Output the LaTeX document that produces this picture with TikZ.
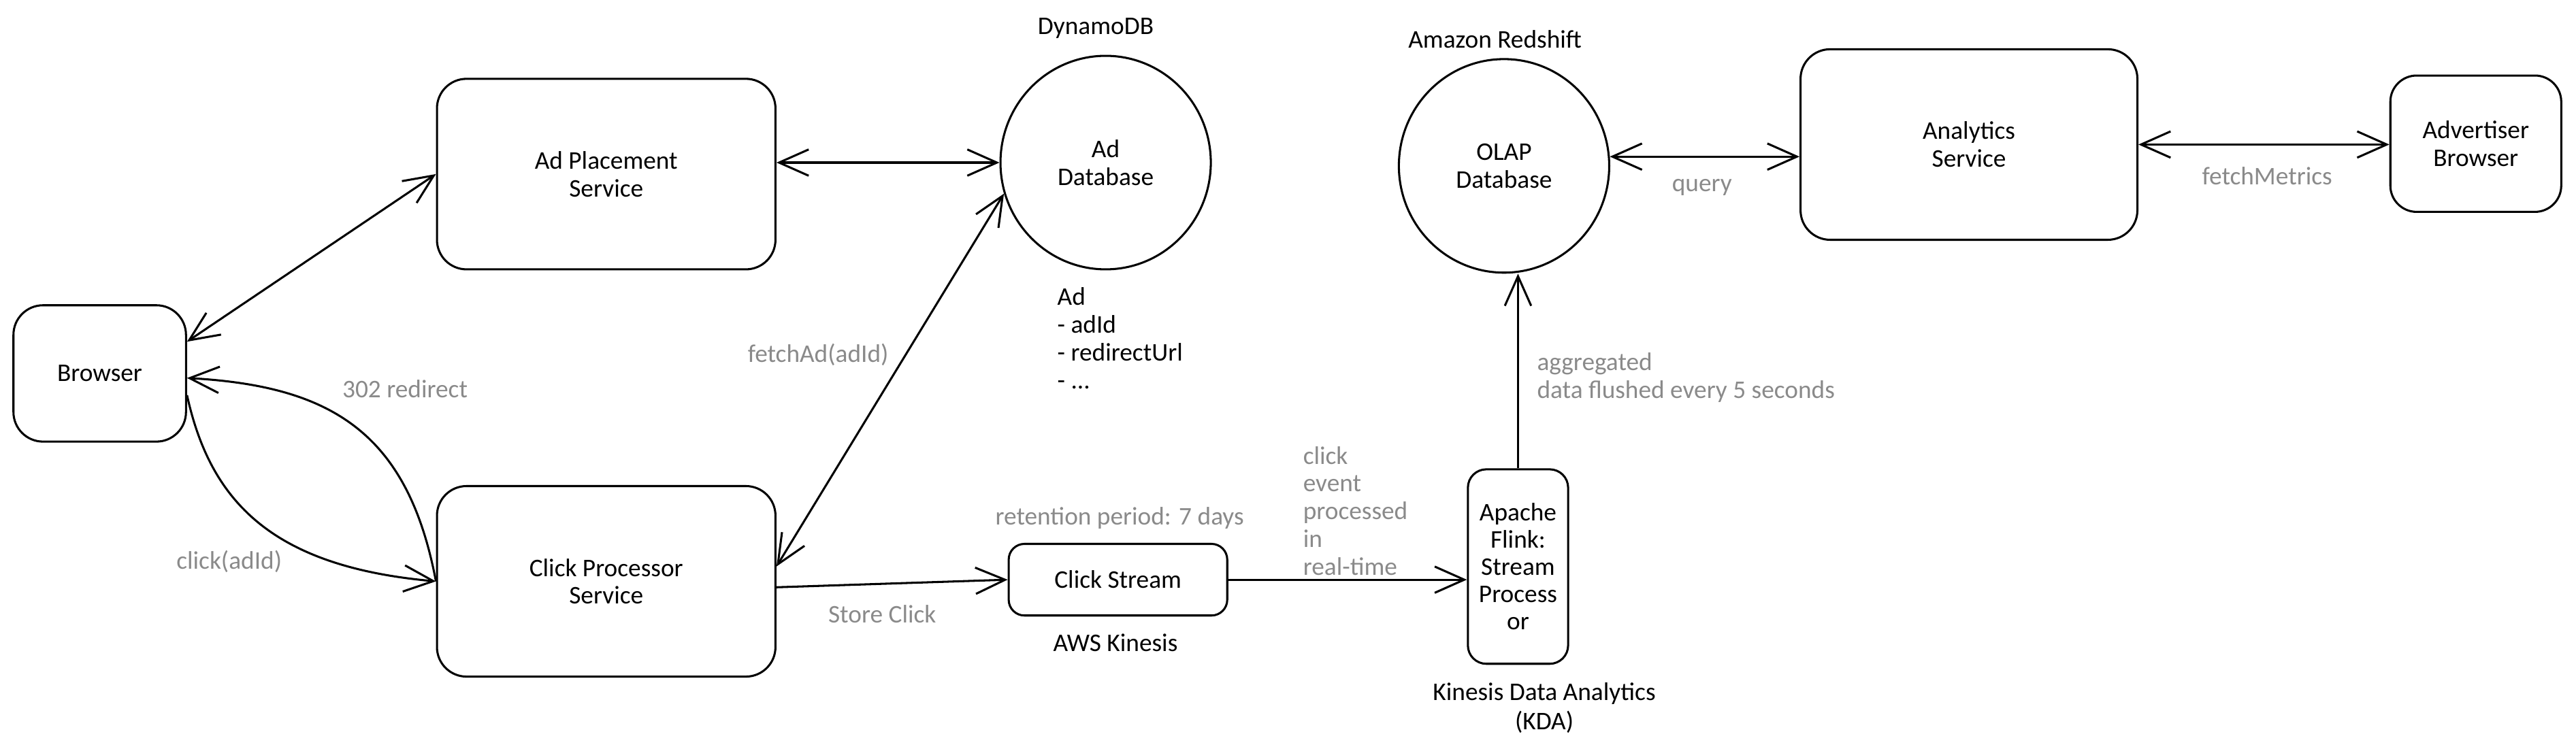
\documentclass[tikz,border=0pt]{standalone}
\usepackage{fontspec}
\setmainfont{Carlito}
\usetikzlibrary{arrows.meta,shapes.geometric}
\definecolor{lblgray}{HTML}{8A8A8A}

\begin{document}
\begin{tikzpicture}[x=0.025cm,y=-0.025cm,line width=0.9pt,
        font=\fontsize{11}{12}\selectfont,
        >={Straight Barb[length=4.5mm,width=4mm]},
        svc/.style={draw,rounded corners=#1,inner sep=0pt,align=center},
        db/.style={draw,ellipse,inner sep=0pt,align=center,minimum width=3.2cm,minimum height=3.25cm},
        lbl/.style={text=lblgray,inner sep=0pt},
        note/.style={inner sep=0pt,align=left}]
            \useasboundingbox (0,0) rectangle (1568,456);
            \node[svc=4.5mm,minimum width=2.625cm,minimum height=2.075cm] (br) at (60.7,227.4) {Browser};
            \node[svc=4.5mm,minimum width=5.15cm,minimum height=2.9cm] (adp) at (369,106) {Ad Placement\\Service};
            \node[svc=4.5mm,minimum width=5.15cm,minimum height=2.9cm] (cps) at (369,354) {Click Processor\\Service};
            \node[db] (addb) at (673,99) {Ad\\Database};
            \node[svc=2.4mm,minimum width=3.325cm,minimum height=1.09cm] (cs) at (680.5,353) {Click Stream};
            \node[svc=2.8mm,minimum width=1.525cm,minimum height=2.96cm,font=\fontsize{11}{11.8}\selectfont] (fl) at (924,345) {Apache\\Flink:\\Stream\\Process\\or};
            \node[db] (olap) at (915.5,101) {OLAP\\Database};
            \node[svc=4.5mm,minimum width=5.125cm,minimum height=2.9cm] (an) at (1198.5,88) {Analytics\\Service};
            \node[svc=4mm,minimum width=2.6cm,minimum height=2.075cm] (adv) at (1507,87.5) {Advertiser\\Browser};
            \node (dyn) at (667,17) {DynamoDB};
            \node[note,anchor=west] (adschema) at (643,206) {Ad\\- adId\\- redirectUrl\\- ...};
            \node (red) at (910,24) {Amazon Redshift};
            \node (kin) at (679,391.5) {AWS Kinesis};
            \node[align=center,inner sep=0pt,font=\fontsize{11}{12.6}\selectfont] (kda) at (940,431) {Kinesis Data Analytics\\(KDA)};
            \node[lbl] (redir) at (246.5,237) {302 redirect};
            \node[lbl] (clk) at (139.5,342) {click(adId)};
            \node[lbl] (fetch) at (498,216) {fetchAd(adId)};
            \node[lbl] (store) at (537,374) {Store Click};
            \node[lbl] (ret) at (681.5,315.5) {retention period: 7 days};
            \node[lbl,note,anchor=west] (evt) at (792.6,311) {click\\event\\processed\\in\\real-time};
            \node[lbl,note,anchor=west] (agg) at (935,230) {aggregated\\data flushed every 5 seconds};
            \node[lbl] (qry) at (1036,114) {query};
            \node[lbl] (fm) at (1380,107) {fetchMetrics};
            \draw[<->] (br.20) -- (adp.west);
            \draw[<->] (adp.east |- addb.west) -- (addb.west);
            \draw[<->] (cps.5) -- (addb.197);
            \draw[->] (br.-14) .. controls (128,305) and (165,345) .. (cps.west);
            \draw[->] (cps.west) .. controls (248,262) and (200,235) .. (br.-3);
            \draw[->] (cps.-2) -- (cs.west);
            \draw[->] (cs.east) -- (cs.east -| fl.west);
            \draw[->] (fl.north) -- (fl.north |- olap.south);
            \draw[<->] (olap.5) -- (olap.5 -| an.west);
            \draw[<->] (an.east) -- (an.east -| adv.west);
\end{tikzpicture}
\end{document}
